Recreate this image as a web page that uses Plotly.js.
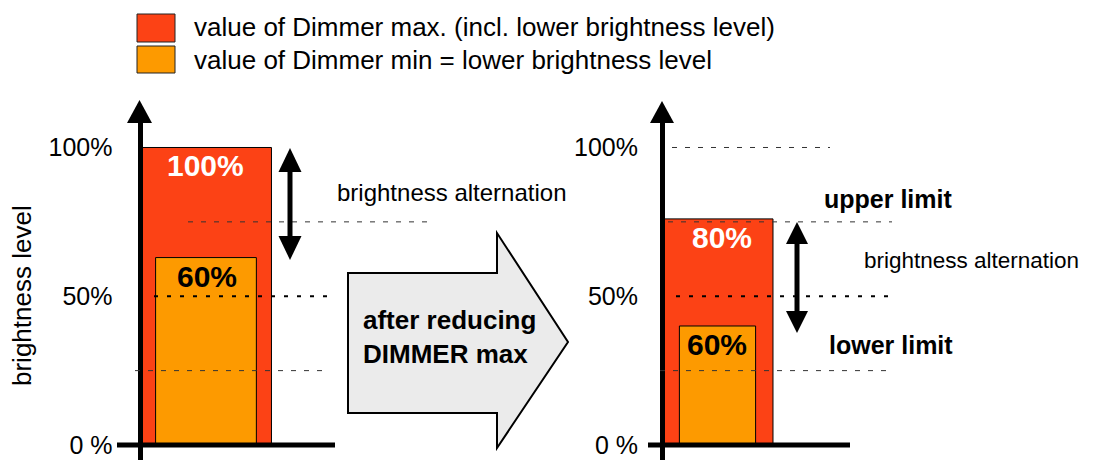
<!DOCTYPE html>
<html><head><meta charset="utf-8">
<script src="https://cdn.plot.ly/plotly-3.0.1.min.js"></script>
<style>html,body{margin:0;padding:0;background:#fff}#chart{width:1107px;height:460px}</style>
</head><body><div id="chart"></div>
<script>
// ---- data ----
const categories = ["before", "after"];
const maxValues = [100, 76];
const minValues = [63, 40];
const maxLabels = ["100%", "80%"];
const minLabels = ["60%", "60%"];
const tickValues = [0, 50, 100];
const tickLabels = ["0 %", "50%", "100%"];
const seriesNames = ["value of Dimmer max. (incl. lower brightness level)", "value of Dimmer min = lower brightness level"];
const yTitle = "brightness level";
const alternationText = "brightness alternation";
const arrowText = "<b>after reducing<br>DIMMER max</b>";
const limitTexts = ["upper limit", "lower limit"];

// ---- helpers (pixel -> paper) ----
const W = 1107, H = 460;
const px = x => x / W, py = y => 1 - y / H;
const FONT = "Liberation Sans, Arial, Helvetica, sans-serif";
const RED = "#fc4215", ORANGE = "#fd9a00";

function poly(pts, fill, lw) {
  const d = pts.map((p, i) => (i ? "L" : "M") + px(p[0]).toFixed(5) + "," + py(p[1]).toFixed(5)).join(" ") + " Z";
  return {type: "path", xref: "paper", yref: "paper", path: d, fillcolor: fill,
          line: {color: "#000", width: lw || 0}, layer: "above"};
}
function hline(v, x0, x1, thick) {
  return {type: "line", xref: "paper", yref: "y", x0: px(x0), x1: px(x1), y0: v, y1: v,
          line: {color: thick ? "#000" : "#333", width: thick ? 2 : 1, dash: thick ? "4px,9px" : "5px,8px"}, layer: "above"};
}
function vline(x, y0, y1, w) {
  return {type: "line", xref: "paper", yref: "paper", x0: px(x), x1: px(x), y0: py(y0), y1: py(y1),
          line: {color: "#000", width: w}, layer: "above"};
}
function doubleArrow(x, top, bottom, hw, hl) {
  return [
    vline(x, top + hl - 2, bottom - hl + 2, 5),
    poly([[x, top], [x + hw, top + hl], [x - hw, top + hl]], "#000", 0),
    poly([[x, bottom], [x + hw, bottom - hl], [x - hw, bottom - hl]], "#000", 0)
  ];
}

const shapes = [
  // axis arrowheads
  poly([[139.5, 100], [152, 123], [127, 123]], "#000", 0),
  poly([[662, 101], [674, 123], [650, 123]], "#000", 0),
  // x axis lines at 0
  {type: "line", xref: "paper", yref: "y", x0: px(117), x1: px(335), y0: 0, y1: 0, line: {color: "#000", width: 5}, layer: "above"},
  {type: "line", xref: "paper", yref: "y", x0: px(648), x1: px(850), y0: 0, y1: 0, line: {color: "#000", width: 5}, layer: "above"},
  // reference levels, left
  hline(75, 188, 432, false),
  hline(50, 154, 330, true),
  hline(25, 135, 328, false),
  // reference levels, right
  hline(100, 672, 830, false),
  hline(75, 668, 892, false),
  hline(50, 676, 892, true),
  hline(25, 660, 892, false),
  // block arrow
  poly([[348, 273], [497, 273], [497, 233], [568, 342], [497, 448], [497, 413], [348, 413]], "#ebebeb", 2),
  // legend swatches
  {type: "rect", xref: "paper", yref: "paper", x0: px(137), x1: px(175), y0: py(14), y1: py(42), fillcolor: RED, line: {color: "#222", width: 1}},
  {type: "rect", xref: "paper", yref: "paper", x0: px(137), x1: px(175), y0: py(46), y1: py(73), fillcolor: ORANGE, line: {color: "#222", width: 1}},
  ...doubleArrow(290, 148, 260, 11.5, 24),
  ...doubleArrow(797, 222, 333, 11, 22)
];

const annotations = [
  {xref: "paper", yref: "paper", x: px(192), y: py(27), xanchor: "left", yanchor: "middle", showarrow: false,
   text: seriesNames[0], font: {family: FONT, size: 26, color: "#000"}},
  {xref: "paper", yref: "paper", x: px(192), y: py(60), xanchor: "left", yanchor: "middle", showarrow: false,
   text: seriesNames[1], font: {family: FONT, size: 26, color: "#000"}},
  {xref: "paper", yref: "paper", x: px(22), y: py(296), textangle: -90, xanchor: "center", yanchor: "middle", showarrow: false,
   text: yTitle, font: {family: FONT, size: 26, color: "#000"}},
  {xref: "paper", yref: "paper", x: px(335), y: py(192), xanchor: "left", yanchor: "middle", showarrow: false,
   text: alternationText, font: {family: FONT, size: 24, color: "#000"}},
  {xref: "paper", yref: "paper", x: px(862), y: py(260), xanchor: "left", yanchor: "middle", showarrow: false,
   text: alternationText, font: {family: FONT, size: 22.5, color: "#000"}},
  {xref: "paper", yref: "paper", x: px(822), y: py(199), xanchor: "left", yanchor: "middle", showarrow: false,
   text: "<b>" + limitTexts[0] + "</b>", font: {family: FONT, size: 25, color: "#000"}},
  {xref: "paper", yref: "paper", x: px(827), y: py(345), xanchor: "left", yanchor: "middle", showarrow: false,
   text: "<b>" + limitTexts[1] + "</b>", font: {family: FONT, size: 25, color: "#000"}},
  {xref: "paper", yref: "paper", x: px(361), y: py(337), xanchor: "left", yanchor: "middle", align: "left", showarrow: false,
   text: arrowText, font: {family: FONT, size: 26, color: "#000"}}
];
categories.forEach((c, i) => {
  annotations.push({xref: "x", yref: "y", x: c, y: maxValues[i], xanchor: "center", yanchor: "top", showarrow: false,
    xshift: i === 1 ? 5 : 0, text: "<b>" + maxLabels[i] + "</b>", font: {family: FONT, size: 30, color: "#fff"}});
  annotations.push({xref: "x", yref: "y", x: c, y: minValues[i], xanchor: "center", yanchor: "top", showarrow: false,
    xshift: i === 0 ? 1 : 0, text: "<b>" + minLabels[i] + "</b>", font: {family: FONT, size: 30, color: "#000"}});
});

const traces = [
  {type: "bar", x: categories, y: maxValues, name: seriesNames[0], width: [0.256, 0.217],
   marker: {color: RED, line: {color: "#000", width: 1}}, hoverinfo: "none"},
  {type: "bar", x: categories, y: minValues, name: seriesNames[1], width: [0.197, 0.149],
   marker: {color: ORANGE, line: {color: "#000", width: 1}}, hoverinfo: "none"},
  // invisible carrier so that the right-hand axis is drawn
  {type: "scatter", x: categories, y: maxValues, yaxis: "y2", mode: "none", hoverinfo: "skip", showlegend: false}
];

const yRange = [-5.04, 108.23];
const yDomain = [0, 0.7326];
const axisCommon = {
  range: yRange, domain: yDomain, anchor: "free", showline: true, linecolor: "#000", linewidth: 5,
  tickmode: "array", tickvals: tickValues, ticktext: tickLabels, ticks: "outside", ticklen: 20,
  tickcolor: "rgba(0,0,0,0)", showgrid: false, zeroline: false, fixedrange: true,
  tickfont: {family: FONT, size: 25, color: "#000"}
};

const layout = {
  width: W, height: H, margin: {l: 0, r: 0, t: 0, b: 0}, paper_bgcolor: "#fff", plot_bgcolor: "rgba(0,0,0,0)",
  barmode: "overlay", showlegend: false,
  xaxis: {type: "category", range: [-0.4027, 1.7615], domain: [0, 1], visible: false, fixedrange: true},
  yaxis: Object.assign({}, axisCommon, {position: px(139.5), side: "left"}),
  yaxis2: Object.assign({}, axisCommon, {position: px(662), side: "left", overlaying: "y", ticklen: 17}),
  shapes: shapes, annotations: annotations
};

Plotly.newPlot("chart", traces, layout, {staticPlot: true, displayModeBar: false});
</script></body></html>
